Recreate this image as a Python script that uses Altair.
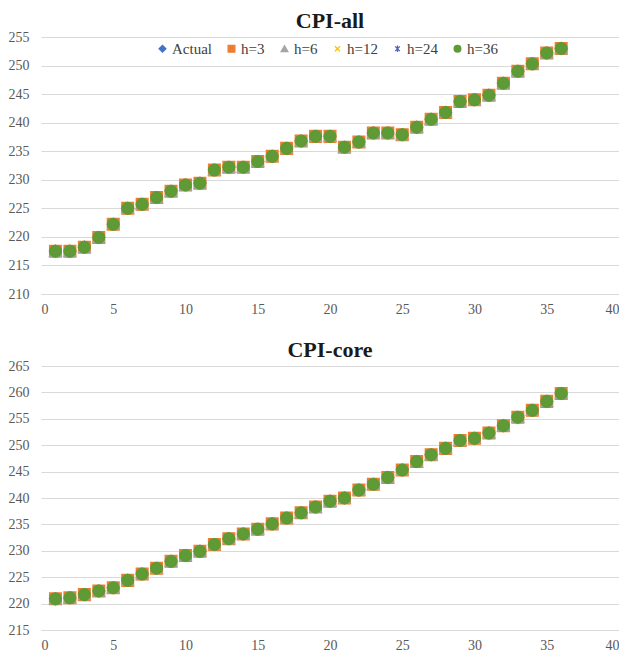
import altair as alt
import pandas as pd

x_idx = list(range(1, 37))

series_names = ["Actual", "h=3", "h=6", "h=12", "h=24", "h=36"]
series_colors = ["#4472C4", "#ED7D31", "#A5A5A5", "#FFC000", "#4F5FC4", "#5E9A35"]
series_shapes = [
    "diamond",
    "square",
    "triangle-up",
    "M-0.75,-0.75L0.75,0.75M-0.75,0.75L0.75,-0.75",
    "M-0.7,-0.7L0.7,0.7M-0.7,0.7L0.7,-0.7M0,-1L0,1",
    "circle",
]

cpi_all_actual = [217.5, 217.5, 218.2, 219.9, 222.2, 225.0, 225.7, 226.9, 228.0, 229.1,
                  229.4, 231.7, 232.2, 232.2, 233.2, 234.1, 235.5, 236.8, 237.6, 237.6,
                  235.7, 236.6, 238.2, 238.2, 237.9, 239.2, 240.6, 241.8, 243.7, 244.0,
                  244.8, 246.9, 249.0, 250.3, 252.2, 253.0]
cpi_all_h3 = list(cpi_all_actual)
cpi_all_h6 = list(cpi_all_actual)
cpi_all_h12 = list(cpi_all_actual)
cpi_all_h24 = list(cpi_all_actual)
cpi_all_h36 = list(cpi_all_actual)

cpi_core_actual = [220.9, 221.1, 221.7, 222.4, 223.0, 224.4, 225.6, 226.7, 228.0, 229.1,
                   229.9, 231.2, 232.3, 233.2, 234.1, 235.1, 236.2, 237.2, 238.3, 239.4,
                   240.0, 241.5, 242.6, 243.9, 245.3, 246.9, 248.2, 249.4, 250.9, 251.3,
                   252.3, 253.7, 255.3, 256.6, 258.3, 259.8]
cpi_core_h3 = list(cpi_core_actual)
cpi_core_h6 = list(cpi_core_actual)
cpi_core_h12 = list(cpi_core_actual)
cpi_core_h24 = list(cpi_core_actual)
cpi_core_h36 = list(cpi_core_actual)

x_ticks = [0, 5, 10, 15, 20, 25, 30, 35, 40]
y_ticks_all = [210, 215, 220, 225, 230, 235, 240, 245, 250, 255]
y_ticks_core = [215, 220, 225, 230, 235, 240, 245, 250, 255, 260, 265]

FONT = "Liberation Serif"


def make_df(series_lists):
    rows = []
    for name, vals in zip(series_names, series_lists):
        for i, v in zip(x_idx, vals):
            rows.append({"t": i, "value": v, "series": name, "order": series_names.index(name)})
    return pd.DataFrame(rows)


df_all = make_df([cpi_all_actual, cpi_all_h3, cpi_all_h6, cpi_all_h12, cpi_all_h24, cpi_all_h36])
df_core = make_df([cpi_core_actual, cpi_core_h3, cpi_core_h6, cpi_core_h12, cpi_core_h24, cpi_core_h36])


def panel(df, title, ydom, yticks, h, show_legend):
    scale_fill = alt.Scale(domain=series_names, range=series_colors)
    scale_shape = alt.Scale(domain=series_names, range=series_shapes)
    if show_legend:
        leg = alt.Legend(
            title=None, orient="none", direction="horizontal",
            legendX=114, legendY=4, labelFont=FONT, labelFontSize=15,
            labelColor="#404040", symbolSize=45, symbolStrokeWidth=1.3,
            columnPadding=12, labelOffset=2,
        )
    else:
        leg = None
    return alt.Chart(df, title=alt.TitleParams(
        title, font=FONT, fontSize=22, fontWeight="bold", color="#1a1a1a", offset=-3)
    ).mark_point(filled=True, size=135, strokeWidth=1.4, opacity=1).encode(
        x=alt.X("t:Q", scale=alt.Scale(domain=[0, 40]),
                axis=alt.Axis(values=x_ticks, title=None, grid=False, ticks=False,
                              domainColor="#D9D9D9", labelFont=FONT, labelFontSize=14,
                              labelColor="#595959", labelPadding=8)),
        y=alt.Y("value:Q", scale=alt.Scale(domain=ydom, nice=False, zero=False),
                axis=alt.Axis(values=yticks, title=None, domain=False, ticks=False,
                              gridColor="#D9D9D9", labelFont=FONT, labelFontSize=14,
                              labelColor="#595959", labelPadding=12)),
        fill=alt.Fill("series:N", scale=scale_fill, sort=series_names, legend=leg),
        stroke=alt.Stroke("series:N", scale=scale_fill, sort=series_names, legend=leg),
        shape=alt.Shape("series:N", scale=scale_shape, sort=series_names, legend=leg),
        order=alt.Order("order:Q"),
    ).properties(width=578, height=h)


top = panel(df_all, "CPI-all", [210, 255], y_ticks_all, 257, True)
bottom = panel(df_core, "CPI-core", [215, 265], y_ticks_core, 264, False)

chart = alt.vconcat(top, bottom, spacing=23).resolve_scale(
    fill="independent", stroke="independent", shape="independent"
).resolve_legend(fill="independent", stroke="independent", shape="independent").configure(
    padding={"top": 2, "left": 0, "right": 0, "bottom": 0}
).configure_view(stroke=None).configure_legend(symbolStrokeColor=None)

chart.save("out.html", embed_options={"renderer": "svg", "actions": False})
